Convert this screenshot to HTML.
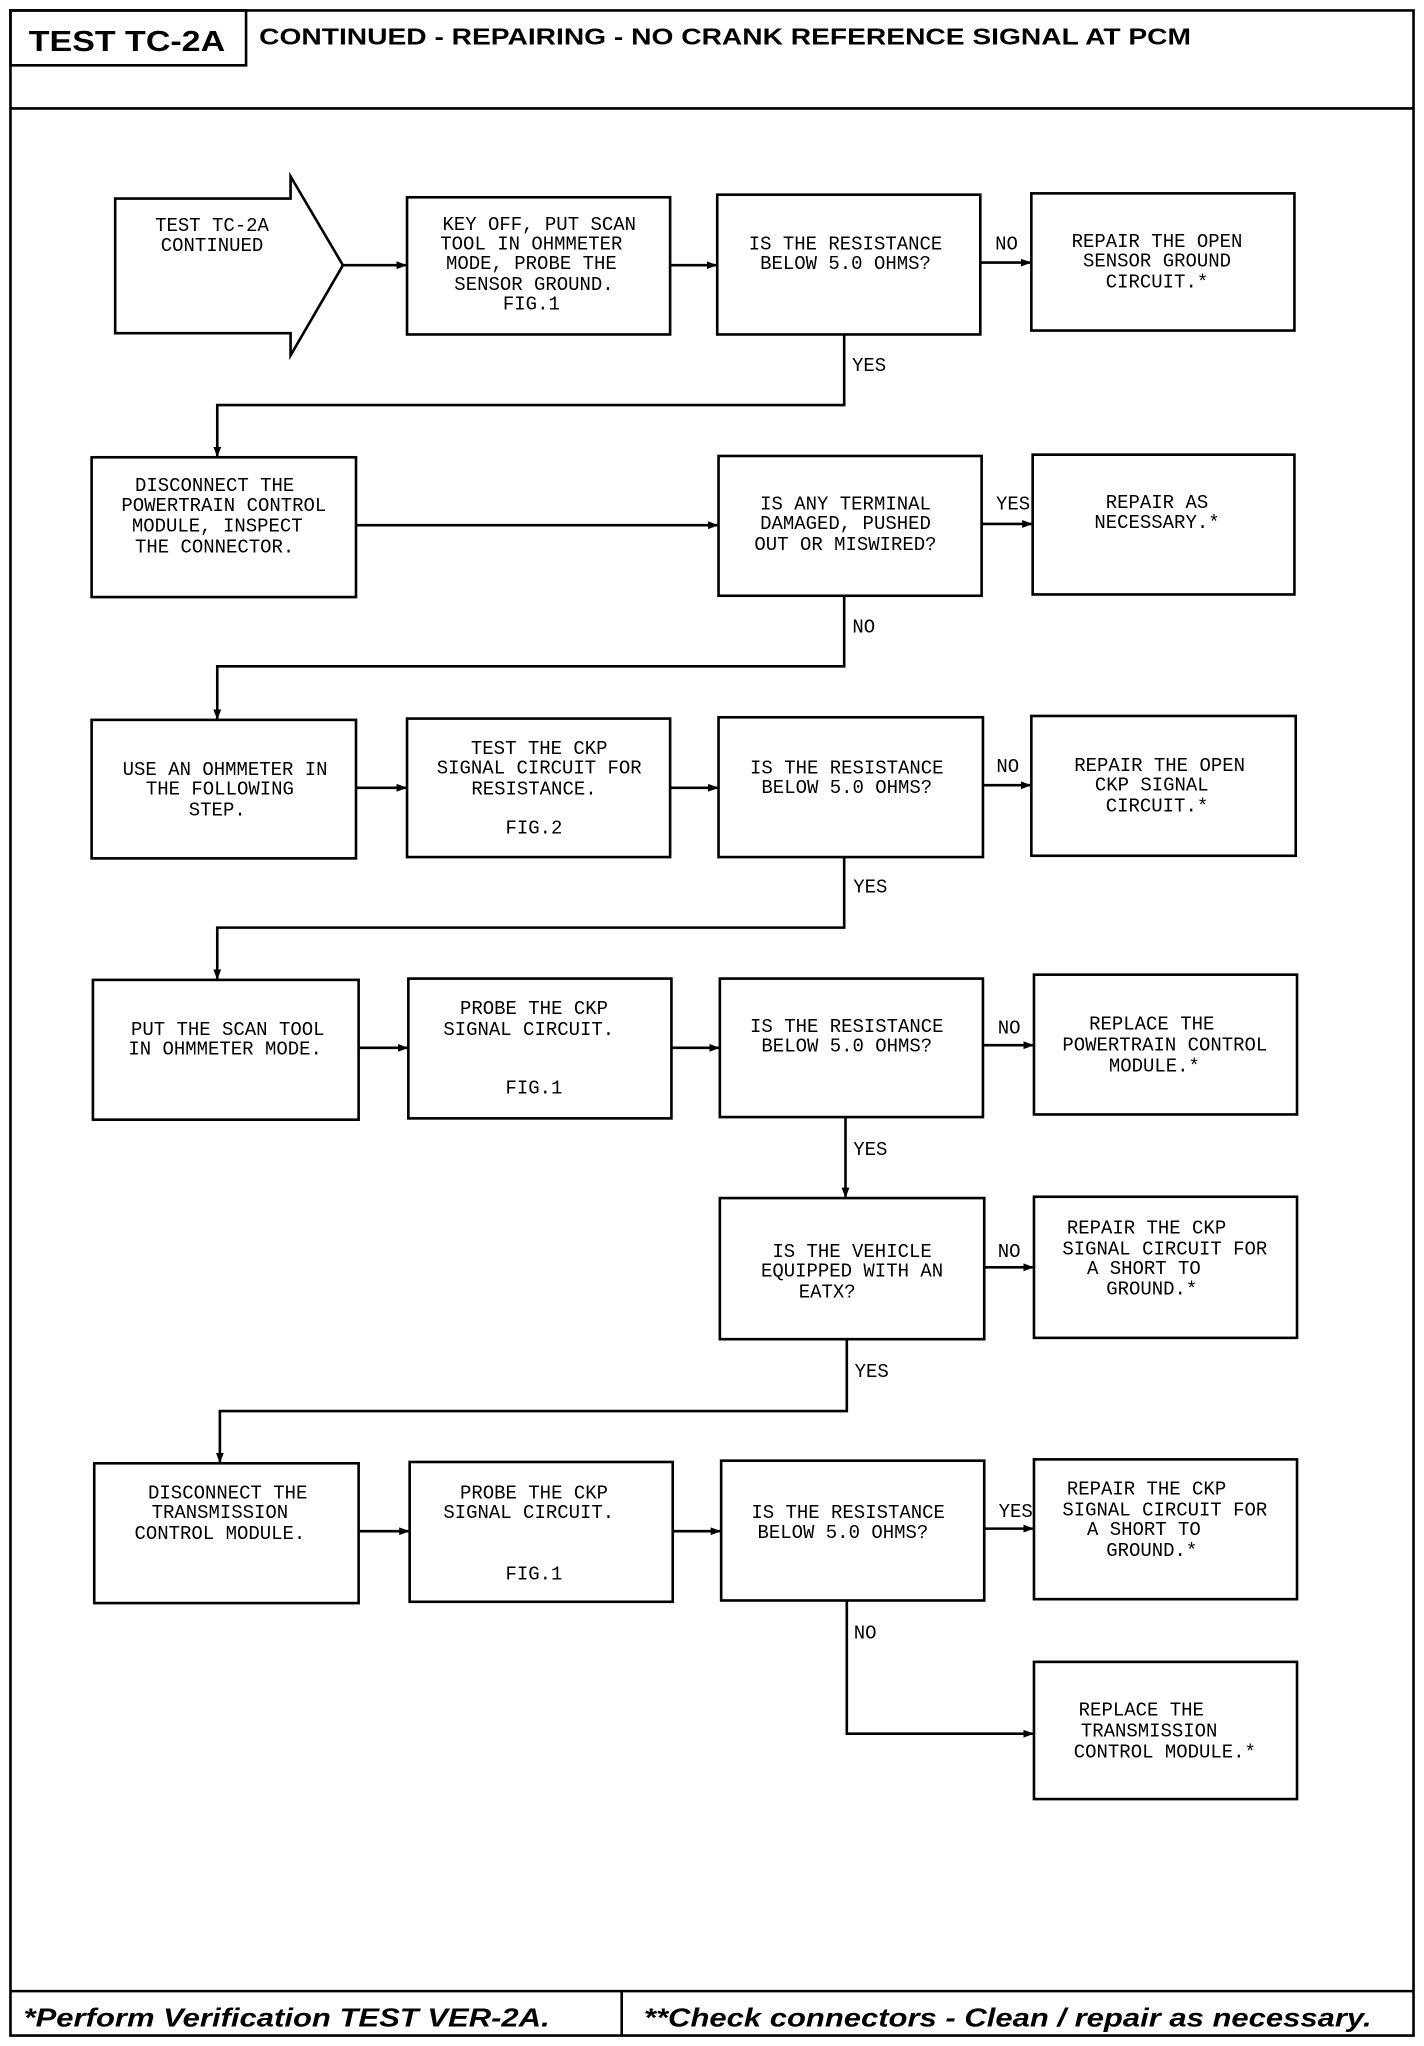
<!DOCTYPE html>
<html><head><meta charset="utf-8"><style>
html,body{margin:0;padding:0;background:#fff;}
svg{display:block;}
.t{font-family:"Liberation Mono",monospace;font-size:14.5px;fill:#000;text-anchor:middle;}
.b{fill:#fff;stroke:#000;stroke-width:2;}
.l{fill:none;stroke:#000;stroke-width:2;}
</style></head><body>
<svg width="1424" height="2046" viewBox="0 0 1088 1566" preserveAspectRatio="none" xmlns="http://www.w3.org/2000/svg">
<defs><marker id="a" markerWidth="8" markerHeight="8" refX="7" refY="4" orient="auto" markerUnits="userSpaceOnUse"><path d="M0,1 L8,4 L0,7 z" fill="#000"/></marker></defs>
<rect x="8" y="8" width="1072" height="1550" class="l" stroke-width="2.5"/>
<line x1="8" y1="83" x2="1080" y2="83" class="l" stroke-width="3"/>
<rect x="8" y="8" width="180" height="42" class="l"/>
<text x="22" y="39" font-family="Liberation Sans,sans-serif" font-weight="bold" font-size="22" textLength="150" lengthAdjust="spacingAndGlyphs">TEST TC-2A</text>
<text x="198" y="34" font-family="Liberation Sans,sans-serif" font-weight="bold" font-size="18" textLength="712" lengthAdjust="spacingAndGlyphs">CONTINUED - REPAIRING - NO CRANK REFERENCE SIGNAL AT PCM</text>
<line x1="8" y1="1524" x2="1080" y2="1524" class="l" stroke-width="3"/>
<line x1="475" y1="1524" x2="475" y2="1558" class="l"/>
<text x="18" y="1551" font-family="Liberation Sans,sans-serif" font-weight="bold" font-style="italic" font-size="20" textLength="402" lengthAdjust="spacingAndGlyphs">*Perform Verification TEST VER-2A.</text>
<text x="492" y="1551" font-family="Liberation Sans,sans-serif" font-weight="bold" font-style="italic" font-size="20" textLength="556" lengthAdjust="spacingAndGlyphs">**Check connectors - Clean / repair as necessary.</text>

<!-- Row1 -->
<path d="M88,152 L222,152 L222,135 L262,203 L222,272 L222,255 L88,255 Z" class="b"/>
<text class="t" x="162" y="177">TEST TC-2A</text><text class="t" x="162" y="192">CONTINUED</text>
<rect x="311" y="151" width="201" height="105" class="b"/>
<text class="t" x="412" y="176">KEY OFF, PUT SCAN</text><text class="t" x="406" y="191">TOOL IN OHMMETER</text><text class="t" x="406" y="206">MODE, PROBE THE</text><text class="t" x="408" y="222">SENSOR GROUND.</text><text class="t" x="406" y="237">FIG.1</text>
<rect x="548" y="149" width="201" height="107" class="b"/>
<text class="t" x="646" y="191">IS THE RESISTANCE</text><text class="t" x="646" y="206">BELOW 5.0 OHMS?</text>
<text class="t" x="769" y="191">NO</text>
<rect x="788" y="148" width="201" height="105" class="b"/>
<text class="t" x="884" y="189">REPAIR THE OPEN</text><text class="t" x="884" y="204">SENSOR GROUND</text><text class="t" x="884" y="220">CIRCUIT.*</text>
<line x1="262" y1="203" x2="310" y2="203" class="l" marker-end="url(#a)"/>
<line x1="512" y1="203" x2="547" y2="203" class="l" marker-end="url(#a)"/>
<line x1="749" y1="201" x2="787" y2="201" class="l" marker-end="url(#a)"/>
<polyline points="645,256 645,310 166,310 166,349" class="l" marker-end="url(#a)"/>
<text class="t" x="664" y="284">YES</text>

<!-- Row2 -->
<rect x="70" y="350" width="202" height="107" class="b"/>
<text class="t" x="164" y="376">DISCONNECT THE</text><text class="t" x="171" y="391">POWERTRAIN CONTROL</text><text class="t" x="166" y="407">MODULE, INSPECT</text><text class="t" x="164" y="423">THE CONNECTOR.</text>
<line x1="272" y1="402" x2="548" y2="402" class="l" marker-end="url(#a)"/>
<rect x="549" y="349" width="201" height="107" class="b"/>
<text class="t" x="646" y="390">IS ANY TERMINAL</text><text class="t" x="646" y="405">DAMAGED, PUSHED</text><text class="t" x="646" y="421">OUT OR MISWIRED?</text>
<text class="t" x="774" y="390">YES</text>
<rect x="789" y="348" width="200" height="107" class="b"/>
<text class="t" x="884" y="389">REPAIR AS</text><text class="t" x="884" y="404">NECESSARY.*</text>
<line x1="750" y1="401" x2="788" y2="401" class="l" marker-end="url(#a)"/>
<polyline points="645,456 645,510 166,510 166,550" class="l" marker-end="url(#a)"/>
<text class="t" x="660" y="484">NO</text>

<!-- Row3 -->
<rect x="70" y="551" width="202" height="106" class="b"/>
<text class="t" x="172" y="593">USE AN OHMMETER IN</text><text class="t" x="168" y="608">THE FOLLOWING</text><text class="t" x="166" y="624">STEP.</text>
<line x1="272" y1="603" x2="310" y2="603" class="l" marker-end="url(#a)"/>
<rect x="311" y="550" width="201" height="106" class="b"/>
<text class="t" x="412" y="577">TEST THE CKP</text><text class="t" x="412" y="592">SIGNAL CIRCUIT FOR</text><text class="t" x="408" y="608">RESISTANCE.</text><text class="t" x="408" y="638">FIG.2</text>
<line x1="512" y1="603" x2="548" y2="603" class="l" marker-end="url(#a)"/>
<rect x="549" y="549" width="202" height="107" class="b"/>
<text class="t" x="647" y="592">IS THE RESISTANCE</text><text class="t" x="647" y="607">BELOW 5.0 OHMS?</text>
<text class="t" x="770" y="591">NO</text>
<rect x="788" y="548" width="202" height="107" class="b"/>
<text class="t" x="886" y="590">REPAIR THE OPEN</text><text class="t" x="880" y="605">CKP SIGNAL</text><text class="t" x="884" y="621">CIRCUIT.*</text>
<line x1="751" y1="601" x2="787" y2="601" class="l" marker-end="url(#a)"/>
<polyline points="645,656 645,710 166,710 166,749" class="l" marker-end="url(#a)"/>
<text class="t" x="665" y="683">YES</text>

<!-- Row4 -->
<rect x="71" y="750" width="203" height="107" class="b"/>
<text class="t" x="174" y="792">PUT THE SCAN TOOL</text><text class="t" x="172" y="807">IN OHMMETER MODE.</text>
<line x1="274" y1="802" x2="311" y2="802" class="l" marker-end="url(#a)"/>
<rect x="312" y="749" width="201" height="107" class="b"/>
<text class="t" x="408" y="776">PROBE THE CKP</text><text class="t" x="404" y="792">SIGNAL CIRCUIT.</text><text class="t" x="408" y="837">FIG.1</text>
<line x1="513" y1="802" x2="549" y2="802" class="l" marker-end="url(#a)"/>
<rect x="550" y="749" width="201" height="106" class="b"/>
<text class="t" x="647" y="790">IS THE RESISTANCE</text><text class="t" x="647" y="805">BELOW 5.0 OHMS?</text>
<text class="t" x="771" y="791">NO</text>
<rect x="790" y="746" width="201" height="107" class="b"/>
<text class="t" x="880" y="788">REPLACE THE</text><text class="t" x="890" y="804">POWERTRAIN CONTROL</text><text class="t" x="882" y="820">MODULE.*</text>
<line x1="751" y1="800" x2="789" y2="800" class="l" marker-end="url(#a)"/>
<line x1="646" y1="855" x2="646" y2="916" class="l" marker-end="url(#a)"/>
<text class="t" x="665" y="884">YES</text>

<!-- Row5 -->
<rect x="550" y="917" width="202" height="108" class="b"/>
<text class="t" x="651" y="962">IS THE VEHICLE</text><text class="t" x="651" y="977">EQUIPPED WITH AN</text><text class="t" x="632" y="993">EATX?</text>
<text class="t" x="771" y="962">NO</text>
<rect x="790" y="916" width="201" height="108" class="b"/>
<text class="t" x="876" y="944">REPAIR THE CKP</text><text class="t" x="890" y="960">SIGNAL CIRCUIT FOR</text><text class="t" x="874" y="975">A SHORT TO</text><text class="t" x="880" y="991">GROUND.*</text>
<line x1="752" y1="970" x2="789" y2="970" class="l" marker-end="url(#a)"/>
<polyline points="647,1025 647,1080 168,1080 168,1119" class="l" marker-end="url(#a)"/>
<text class="t" x="666" y="1054">YES</text>

<!-- Row6 -->
<rect x="72" y="1120" width="202" height="107" class="b"/>
<text class="t" x="174" y="1147">DISCONNECT THE</text><text class="t" x="168" y="1162">TRANSMISSION</text><text class="t" x="168" y="1178">CONTROL MODULE.</text>
<line x1="274" y1="1172" x2="312" y2="1172" class="l" marker-end="url(#a)"/>
<rect x="313" y="1119" width="201" height="107" class="b"/>
<text class="t" x="408" y="1147">PROBE THE CKP</text><text class="t" x="404" y="1162">SIGNAL CIRCUIT.</text><text class="t" x="408" y="1209">FIG.1</text>
<line x1="514" y1="1172" x2="550" y2="1172" class="l" marker-end="url(#a)"/>
<rect x="551" y="1118" width="201" height="107" class="b"/>
<text class="t" x="648" y="1162">IS THE RESISTANCE</text><text class="t" x="644" y="1177">BELOW 5.0 OHMS?</text>
<text class="t" x="776" y="1161">YES</text>
<rect x="790" y="1117" width="201" height="107" class="b"/>
<text class="t" x="876" y="1144">REPAIR THE CKP</text><text class="t" x="890" y="1160">SIGNAL CIRCUIT FOR</text><text class="t" x="874" y="1175">A SHORT TO</text><text class="t" x="880" y="1191">GROUND.*</text>
<line x1="752" y1="1170" x2="789" y2="1170" class="l" marker-end="url(#a)"/>
<polyline points="647,1225 647,1327 789,1327" class="l" marker-end="url(#a)"/>
<text class="t" x="661" y="1254">NO</text>
<rect x="790" y="1272" width="201" height="105" class="b"/>
<text class="t" x="872" y="1313">REPLACE THE</text><text class="t" x="878" y="1329">TRANSMISSION</text><text class="t" x="890" y="1345">CONTROL MODULE.*</text>
</svg>
</body></html>
